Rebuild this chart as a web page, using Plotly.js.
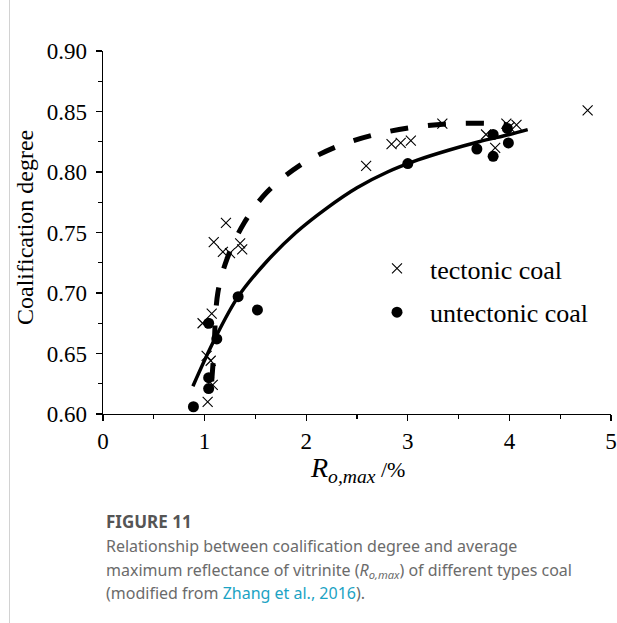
<!DOCTYPE html>
<html>
<head>
<meta charset="utf-8">
<script src="https://cdn.plot.ly/plotly-3.0.1.min.js"></script>
<style>
  html, body { margin: 0; padding: 0; background: #fff; }
  #wrap { position: relative; width: 617px; height: 623px; }
  #edge { position: absolute; left: 9px; top: 0; width: 1px; height: 623px; background: #d2d2d2; z-index: 5; }
  #chart { width: 617px; height: 623px; }
</style>
</head>
<body>
<div id="wrap"><div id="edge"></div><div id="chart"></div></div>
<script>
// ---- data ----
const tectonicX = [0.98, 1.03, 1.02, 1.06, 1.07, 1.08, 1.09, 1.18, 1.21, 1.25, 1.35, 1.37, 2.59, 2.84, 2.93, 3.03, 3.34, 3.77, 3.86, 3.97, 4.00, 4.07, 4.77];
const tectonicY = [0.675, 0.610, 0.648, 0.644, 0.683, 0.624, 0.742, 0.734, 0.758, 0.733, 0.741, 0.736, 0.805, 0.823, 0.824, 0.826, 0.840, 0.831, 0.820, 0.840, 0.837, 0.839, 0.851];

const untectonicX = [0.89, 1.04, 1.04, 1.04, 1.12, 1.33, 1.52, 3.00, 3.68, 3.84, 3.84, 3.98, 3.99];
const untectonicY = [0.606, 0.630, 0.621, 0.675, 0.662, 0.697, 0.686, 0.807, 0.819, 0.831, 0.813, 0.836, 0.824];

// fitted curves
const untectonicFitX = [0.885, 1.10, 1.33, 1.60, 1.90, 2.20, 2.50, 2.80, 3.10, 3.40, 3.70, 4.00, 4.18];
const untectonicFitY = [0.623, 0.662, 0.697, 0.725, 0.750, 0.770, 0.787, 0.800, 0.810, 0.818, 0.825, 0.831, 0.835];

const tectonicFitX = [1.07, 1.09, 1.13, 1.22, 1.39, 1.61, 1.93, 2.30, 2.68, 3.06, 3.45, 3.83, 3.98];
const tectonicFitY = [0.627, 0.650, 0.700, 0.728, 0.758, 0.783, 0.805, 0.821, 0.831, 0.837, 0.840, 0.840, 0.839];

const seriesNames = ['tectonic coal', 'untectonic coal'];
const xTickVals = [0, 1, 2, 3, 4, 5];
const yTickVals = [0.60, 0.65, 0.70, 0.75, 0.80, 0.85, 0.90];
const yTickText = ['0.60', '0.65', '0.70', '0.75', '0.80', '0.85', '0.90'];

const serif = 'Liberation Serif, Times New Roman, serif';
const sans = 'Noto Sans, Open Sans, sans-serif';

const traces = [
  { x: untectonicFitX, y: untectonicFitY, type: 'scatter', mode: 'lines',
    line: { color: '#000', width: 3.5, shape: 'spline', smoothing: 1 }, showlegend: false, hoverinfo: 'skip' },
  { x: tectonicFitX, y: tectonicFitY, type: 'scatter', mode: 'lines',
    line: { color: '#000', width: 5, dash: '18px,20px', shape: 'spline', smoothing: 1 }, showlegend: false, hoverinfo: 'skip' },
  { x: tectonicX, y: tectonicY, type: 'scatter', mode: 'markers', name: seriesNames[0], legendgroup: 'a',
    marker: { symbol: 'x-thin-open', size: 10, color: '#000', line: { color: '#000', width: 1.1 } } },
  { x: untectonicX, y: untectonicY, type: 'scatter', mode: 'markers', name: seriesNames[1], legendgroup: 'b',
    marker: { symbol: 'circle', size: 11, color: '#000' } }
];

const W = 617, H = 623, L = 103, R = 6, T = 51, B = 209;
const pw = W - L - R, ph = H - T - B;
const px = v => (v - L) / pw;
const py = v => (H - B - v) / ph;

const layout = {
  width: W, height: H,
  margin: { l: L, r: R, t: T, b: B, pad: 0 },
  paper_bgcolor: '#fff', plot_bgcolor: '#fff',
  showlegend: true,
  legend: {
    x: px(364), y: py(245), xanchor: 'left', yanchor: 'top',
    bgcolor: 'rgba(0,0,0,0)', borderwidth: 0,
    font: { family: serif, size: 26, color: '#000' },
    traceorder: 'grouped', tracegroupgap: 7, itemwidth: 56
  },
  xaxis: {
    range: [0, 5], tickvals: xTickVals, ticks: 'outside', ticklen: 6, tickwidth: 1.3, tickcolor: '#000',
    showline: true, linecolor: '#000', linewidth: 1.3, showgrid: false, zeroline: false,
    tickfont: { family: serif, size: 23, color: '#000' },
    minor: { dtick: 0.5, ticks: 'outside', ticklen: 4, tickwidth: 1.2, tickcolor: '#000', showgrid: false },
    fixedrange: true
  },
  yaxis: {
    range: [0.60, 0.90], tickvals: yTickVals, ticktext: yTickText, ticks: 'outside', ticklen: 6, tickwidth: 1.3, tickcolor: '#000',
    showline: true, linecolor: '#000', linewidth: 1.3, showgrid: false, zeroline: false,
    tickfont: { family: serif, size: 23, color: '#000' },
    minor: { dtick: 0.025, ticks: 'outside', ticklen: 4, tickwidth: 1.2, tickcolor: '#000', showgrid: false },
    ticklabelstandoff: 4,
    fixedrange: true
  },
  annotations: [
    { xref: 'paper', yref: 'paper', x: px(25), y: py(228), text: 'Coalification degree', textangle: -90,
      showarrow: false, xanchor: 'center', yanchor: 'middle', font: { family: serif, size: 24, color: '#000' } },
    { xref: 'paper', yref: 'paper', x: px(357), y: py(469), showarrow: false, xanchor: 'center', yanchor: 'middle',
      text: '<i>R</i><sub><i>o,max</i></sub><span style="font-size:22px"> /%</span>',
      font: { family: serif, size: 28, color: '#000' } },
    { xref: 'paper', yref: 'paper', x: px(104), y: py(521), showarrow: false, xanchor: 'left', yanchor: 'middle',
      text: '<b>FIGURE 11</b>', font: { family: sans, size: 17, color: '#555' } },
    { xref: 'paper', yref: 'paper', x: px(104), y: py(546), showarrow: false, xanchor: 'left', yanchor: 'middle',
      text: 'Relationship between coalification degree and average', font: { family: sans, size: 16, color: '#6b6b6b' } },
    { xref: 'paper', yref: 'paper', x: px(104), y: py(570), showarrow: false, xanchor: 'left', yanchor: 'middle',
      text: 'maximum reflectance of vitrinite (<i>R</i><sub><i>o,max</i></sub>) of different types coal', font: { family: sans, size: 16, color: '#6b6b6b' } },
    { xref: 'paper', yref: 'paper', x: px(104), y: py(593), showarrow: false, xanchor: 'left', yanchor: 'middle',
      text: '(modified from <span style="color:#1ba3c4">Zhang et al., 2016</span>).', font: { family: sans, size: 16, color: '#6b6b6b' } }
  ]
};

Plotly.newPlot('chart', traces, layout, { displayModeBar: false, staticPlot: true });
</script>
</body>
</html>
